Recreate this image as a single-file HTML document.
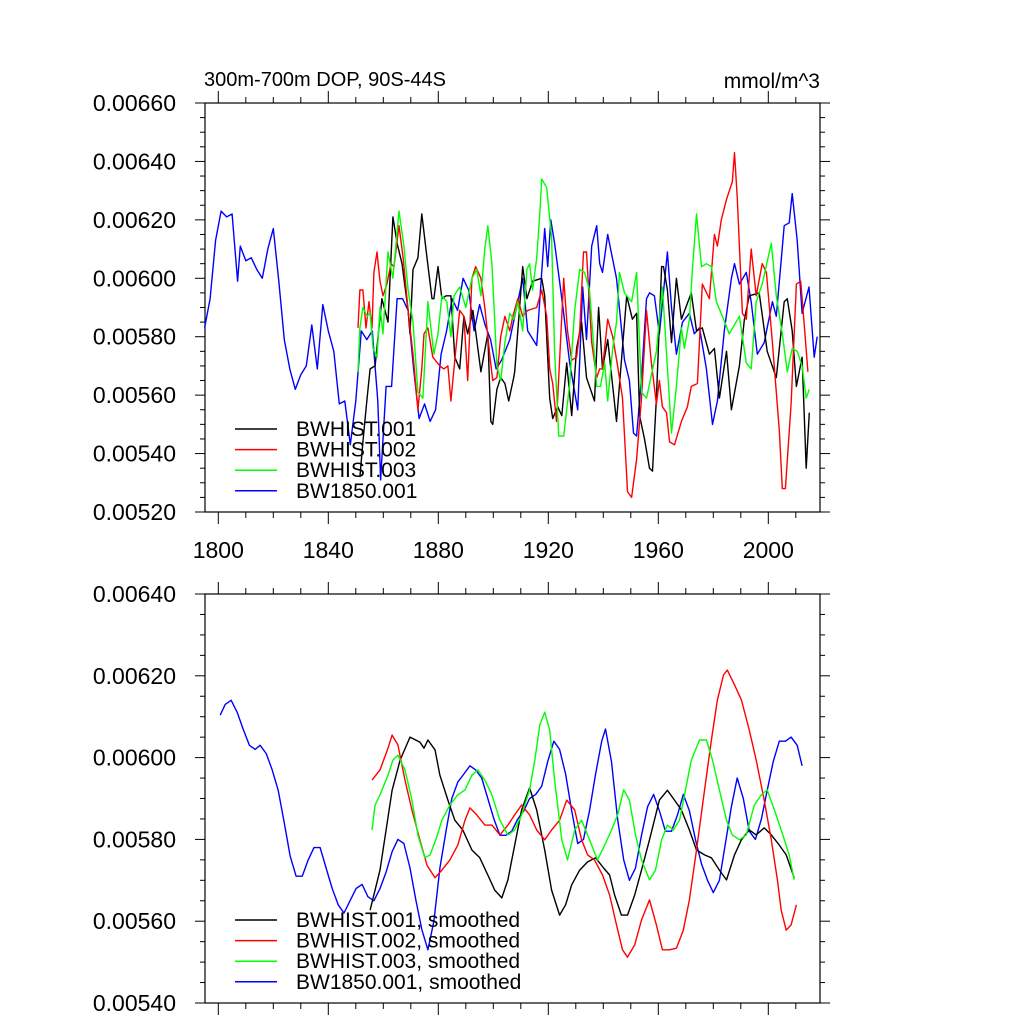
<!DOCTYPE html>
<html><head><meta charset="utf-8">
<style>
body{margin:0;background:#fff;}
svg{display:block;font-family:"Liberation Sans",sans-serif;}
</style></head>
<body>
<svg id="chart" width="1024" height="1024" viewBox="0 0 1024 1024"></svg>
<script>
// ---------- data (values in units of 1e-5 mmol/m^3) ----------
const xTickLabels = ["1800","1840","1880","1920","1960","2000"];
const topYTickLabels = ["0.00520","0.00540","0.00560","0.00580","0.00600","0.00620","0.00640","0.00660"];
const botYTickLabels = ["0.00540","0.00560","0.00580","0.00600","0.00620","0.00640"];
const topLegend = ["BWHIST.001","BWHIST.002","BWHIST.003","BW1850.001"];
const botLegend = ["BWHIST.001, smoothed","BWHIST.002, smoothed","BWHIST.003, smoothed","BW1850.001, smoothed"];

const blkYears=[1851.5,1852.6,1854.1,1855.2,1857,1859.5,1861.7,1863.5,1865,1866.8,1869,1869.7,1870.8,1872.6,1874,1875.9,1877.7,1878.4,1879.9,1881.3,1882.8,1884.6,1886,1887.8,1889.3,1890.7,1892.6,1895.5,1898,1899.1,1899.8,1901.3,1902.7,1904.2,1905.6,1907.4,1907.8,1910.7,1912.2,1914.3,1917.6,1918.7,1920.5,1921.6,1923.4,1924.9,1926.7,1928.5,1930.3,1932.1,1933.9,1936.8,1938.3,1939.7,1941.6,1944.8,1948.5,1950.6,1952.1,1953.2,1955,1956.8,1957.9,1959.3,1961.2,1961.9,1963.3,1964.8,1966.6,1968.4,1972,1973.9,1976,1978.6,1980.4,1982.2,1984.8,1986.6,1989.5,1991.3,1993.1,1996.7,1999.6,2002.9,2005.8,2006.9,2008.7,2010.2,2012.3,2013.8,2014.9];
const blkVals=[532,544,559,569,570,593,585,621,612,605,589,581,603,607,622,607,593,593,604,593,594,594,573,569,587,581,589,568,581,551,550,562,566,564,558,566,568,604,593,599,600,594,559,552,556,553,571,553,576,585,566,558,590,569,579,551,594,586,588,553,545,535,534,559,604,604,596,578,600,586,595,582,583,574,576,559,575,555,570,586,594,595,575,566,592,593,582,563,573,535,554];

const redYears=[1850.8,1851.5,1852.6,1853.7,1854.8,1855.9,1856.6,1857.7,1858.8,1859.9,1861.3,1862.8,1863.9,1865.7,1867.2,1869,1870.8,1872.6,1874,1874.8,1876.2,1878,1880.6,1882,1883.5,1884.6,1886,1887.8,1889.3,1890.7,1892.2,1893.6,1895.5,1896.9,1898.7,1899.8,1901.3,1902.7,1904.2,1906,1907.1,1908.9,1910.7,1912.5,1915.8,1917.6,1919.4,1920.5,1921.6,1923,1924.1,1925.6,1927,1928.5,1930.3,1931.4,1932.8,1933.9,1935.8,1937.6,1938.7,1939.7,1941.6,1943.4,1945.2,1947,1948.8,1950.3,1952.1,1953.9,1955.7,1957.5,1959.3,1960.4,1961.5,1963,1964.1,1965.9,1968.4,1970.6,1972,1974.2,1976,1978.6,1980.4,1981.5,1982.9,1984.8,1986.9,1987.7,1988.7,1990.6,1992,1993.8,1995.6,1997.8,1999.3,2001.5,2004,2005.1,2006.2,2008.3,2010.2,2011.8,2012.9,2014.4];
const redVals=[583,596,596,583,592,583,602,609,599,594,598,605,604,618,607,589,574,555,569,581,583,573,570,569,570,558,572,589,587,565,600,604,600,590,574,565,566,580,587,582,587,593,587,589,590,596,587,569,564,551,572,600,582,572,573,582,609,609,578,566,569,569,586,580,570,559,527,525,538,559,589,571,557,565,556,554,544,543,551,556,563,564,598,593,615,611,620,627,633,643,628,588,586,610,594,605,602,578,548,528,528,557,598,599,586,568];

const grnYears=[1850.8,1851.5,1852.6,1854.1,1855.2,1856.3,1857.7,1858.8,1859.9,1861.7,1863.5,1865.7,1867.5,1869,1870.8,1872.6,1874.4,1876.2,1878.4,1879.9,1881.3,1883.1,1884.6,1885.7,1887.8,1890,1892.2,1894,1895.5,1896.9,1898,1899.5,1901.3,1902.7,1904.2,1906,1907.4,1908.9,1910.7,1912.2,1913.2,1914.3,1915.8,1916.9,1917.6,1919.4,1921.2,1922.3,1923.8,1925.6,1927.8,1929.6,1931.4,1933.2,1935,1937.6,1939,1940.5,1941.6,1943.4,1944.8,1945.9,1947.7,1950.3,1952.1,1953.9,1955.7,1959.3,1961.5,1964.8,1966.6,1968.4,1969.5,1971.3,1972.4,1973.9,1975.7,1977.5,1979.3,1981.1,1983.3,1985.8,1989.5,1992,1993.8,1995.6,1997.8,2001.1,2002.9,2005.1,2006.9,2008.7,2010.5,2012.3,2013.8,2014.9];
const grnVals=[568,583,590,587,588,576,573,590,581,609,600,623,611,596,585,561,559,592,574,581,594,592,580,594,597,590,600,603,594,610,618,605,570,565,578,588,586,592,582,603,605,596,607,622,634,631,614,575,546,546,564,589,603,602,596,563,563,571,558,576,585,602,595,592,602,561,559,575,597,547,563,583,576,586,603,622,604,605,604,592,587,581,587,571,569,592,598,612,594,581,568,576,575,570,559,562];

const bluYears=[1795,1797,1799,1801,1803,1805,1807,1808,1810,1812,1814,1816,1818,1820,1822,1824,1826,1828,1830,1832,1834,1836,1838,1840,1842,1844,1846,1848,1850,1852,1854,1856,1858,1859,1861,1863,1865,1867,1869,1871,1873,1875,1877,1879,1881,1883,1885,1887,1889,1891,1893,1895,1897,1899,1901,1903,1906,1910.7,1912.5,1915.8,1918.7,1919.8,1920.9,1922.3,1925.2,1927.8,1930.7,1932.5,1933.9,1935.8,1937.6,1938.7,1939.7,1941.6,1944.8,1947.7,1949.5,1951,1952.1,1953.9,1955.7,1956.8,1958.6,1960.4,1963.3,1964.8,1966.6,1968.8,1971.3,1973.1,1975,1977.5,1979.7,1981.5,1984,1986.6,1987.7,1989.5,1992,1993.8,1996,1998.5,2001.5,2002.9,2005.8,2007.6,2008.7,2010.5,2012.3,2014.8,2016.7,2017.8];
const bluVals=[583,593,613,623,621,622,599,611,606,607,603,600,610,617,599,579,569,562,567,570,584,569,591,582,575,557,558,543,558,582,579,582,558,531,563,563,593,593,589,569,552,557,551,555,574,582,593,589,600,596,582,591,584,579,569,572,579,600,582,577,617,604,620,612,591,571,555,597,579,611,618,605,602,615,600,572,565,547,546,566,593,595,594,581,609,590,574,585,588,581,583,569,550,558,582,600,605,598,602,592,574,578,592,587,618,619,629,613,588,597,573,580];

const sBlkYears=[1855.2,1858.8,1863.2,1866.1,1869.7,1873.3,1874.8,1876.2,1878.8,1880.6,1883.5,1886,1888.9,1892.2,1895.1,1898,1900.5,1903.1,1905.3,1907.8,1910.3,1913.2,1915.8,1918.7,1921.2,1924.1,1926.3,1928.5,1931.4,1934.3,1937.2,1940.1,1942.3,1944.1,1946.6,1948.8,1951.4,1953.9,1956.8,1960.4,1963.3,1965.9,1968.4,1971.3,1973.9,1976.8,1979.3,1982.2,1984.8,1987.7,1990.2,1993.1,1995.6,1998.5,2001.1,2004,2006.5,2009.4];
const sBlkVals=[562.7,572.5,592,599.4,605,603.8,602.3,604.3,601.9,595.7,589.6,584.7,582.3,577.4,575.5,571.3,567.6,565.7,570.1,578.6,587.2,592.6,587.2,577.4,567.6,561.5,564,568.9,572.5,574.5,575.5,573,571.3,566.4,561.5,561.5,566.4,572.5,579.9,589.6,592,589.6,587.2,582.3,577.4,576.2,575.5,572.5,570.1,576.2,579.9,582.3,581.1,582.8,581.1,578.6,576.2,570.6];

const sRedYears=[1855.9,1858.8,1861.7,1863.2,1865.3,1867.9,1870.4,1873.3,1875.9,1878.8,1881.3,1884.2,1887.1,1889.7,1891.5,1894,1896.9,1899.5,1902.4,1905.3,1907.8,1910.3,1913.2,1915.8,1918.7,1921.2,1924.1,1926.7,1929.6,1932.1,1934.3,1936.8,1939.7,1942.3,1944.8,1947,1948.8,1951.4,1953.9,1956.8,1959.3,1961.5,1964.1,1966.6,1969.1,1971.3,1973.9,1976.8,1979.3,1981.5,1983.7,1985.1,1987.7,1990.2,1993.1,1995.6,1998.5,2001.1,2003.3,2004.7,2006.5,2008.3,2010.2];
const sRedVals=[594.5,597,602.3,605.5,603.1,594.5,587.2,579.9,573.7,570.6,572.5,575,578.6,584.7,587.7,586,583.5,583.5,581.1,583.5,586,588.4,586,582.3,579.9,582.3,584.7,589.6,587.2,579.9,576.2,575,571.3,566.4,559.1,553,551.2,554.2,560.3,565.2,559.1,553,553,553.4,557.8,565.2,577.4,592,604.3,614.1,620.2,621.4,617.8,614.1,606.7,599.4,589.6,579.9,570.1,562.7,557.8,559.1,564];

const sGrnYears=[1855.9,1857,1858.8,1861.7,1863.5,1865.3,1867.9,1870.4,1872.6,1875.1,1877,1879.1,1881.3,1884.2,1887.1,1889.7,1892.2,1894.4,1896.9,1899.5,1902.4,1905.3,1907.8,1910.3,1913.2,1915.1,1916.9,1918.7,1920.5,1922.3,1924.9,1927,1929.6,1932.1,1935,1937.9,1940.5,1943,1945.2,1947.4,1949.5,1951.7,1953.9,1956.8,1959,1961.2,1963.3,1965.5,1967.7,1969.9,1972,1975,1977.5,1979.7,1982.2,1984.8,1986.9,1989.5,1992,1994.9,1997.5,1999.6,2002.2,2004.7,2007.6,2009.4];
const sGrnVals=[582.3,588.4,590.9,595.7,599.4,600.6,597,589.6,581.1,575.5,576.2,579.9,584.7,588.4,590.9,592.1,595.7,597,594.5,590.9,584.7,581.1,582.3,586,592.1,599.4,608,611.1,606.7,594.5,579.9,575,582.3,584.7,579.9,575,578.6,582.3,586,592.1,589.6,581.1,575,570.1,572.5,579.9,583.5,582.3,584.7,592.1,599.4,604.3,604.3,599.4,592.1,584.7,581.1,579.9,581.1,588.4,590.9,592.1,587.2,582.3,576.2,570.1];

const sBluYears=[1800.7,1802.5,1804.7,1806.9,1809,1811.3,1813.4,1815.2,1817.4,1819.6,1821.8,1824,1826.1,1828.3,1830.5,1832.7,1834.8,1837,1839.2,1841.4,1843.6,1845.7,1847.9,1850.1,1852.3,1854.4,1856.6,1858.8,1861,1863.2,1865.3,1867.5,1869.7,1871.9,1874,1876.2,1878.4,1880.6,1882.8,1884.9,1887.1,1889.3,1891.5,1893.6,1895.8,1898,1900.2,1902.4,1904.5,1906.7,1908.9,1911.1,1913.2,1915.4,1917.6,1919.8,1922,1924.1,1926.3,1928.5,1930.7,1932.8,1935,1937.2,1939.4,1940.8,1943,1945.2,1947.4,1949.5,1951.7,1953.9,1956.1,1958.3,1960.4,1962.6,1964.8,1967,1969.1,1971.3,1973.5,1975.7,1977.9,1980,1982.2,1984.4,1986.6,1988.7,1990.9,1993.1,1995.3,1997.5,1999.6,2001.8,2004,2006.2,2008.3,2010.5,2012.3];
const sBluVals=[610.4,613,614,611,607,603,602,603,601,597,592,584,576,571,571,575,578,578,573,568,564,562,565,568,569,566,565,568,572,577,580,579,573,565,558,553,560,573,582,590,594,596,598,597,595,590,585,581,581,582,585,587,590,591,593,599,604,602,596,587,579,580,587,596,604,607,599,585,575,570,573,581,588,591,587,582,582,586,591,587,580,574,570,567,570,579,588,595,590,582,580,585,592,599,604,604,605,603,598];

// ---------- drawing ----------
const svg=document.getElementById('chart');
const NS='http://www.w3.org/2000/svg';
const X0=205, X1=820;
function xs(yr){return 218.3+(yr-1800)*2.75;}
function mk(tag,attrs,parent){const e=document.createElementNS(NS,tag);for(const k in attrs)e.setAttribute(k,attrs[k]);(parent||svg).appendChild(e);return e;}

function panel(name,top,bot,vmin,vmax,yLabels,showX){
  const g=mk('g',{});
  
  
  const ys=v=>bot-(v-vmin)/(vmax-vmin)*(bot-top);
  const frame=mk('rect',{x:X0,y:top,width:X1-X0,height:bot-top,fill:'none',stroke:'#000','stroke-width':1.2},g);
  
  
  for(let v=vmin;v<=vmax+0.01;v+=5){
    const major=Math.round(v)%20===0;
    const L=major?10:5, y=ys(v);
    mk('line',{x1:X0,x2:X0-L,y1:y,y2:y,stroke:'#000','stroke-width':1},g);
    mk('line',{x1:X1,x2:X1+L,y1:y,y2:y,stroke:'#000','stroke-width':1},g);
  }
  yLabels.forEach((lab,i)=>{
    const v=vmin+i*20;
    const t=mk('text',{x:176,y:ys(v)+8,'text-anchor':'end','font-size':23},g);
    t.textContent=lab;
    
    
  });
  for(let yr=1800;yr<=2010;yr+=10){
    const major=(yr-1800)%40===0, L=major?12:6, x=xs(yr);
    mk('line',{x1:x,x2:x,y1:bot,y2:bot+L,stroke:'#000','stroke-width':1},g);
    mk('line',{x1:x,x2:x,y1:top,y2:top-L,stroke:'#000','stroke-width':1},g);
  }
  if(showX){
    xTickLabels.forEach(lab=>{
      const t=mk('text',{x:xs(+lab),y:bot+46,'text-anchor':'middle','font-size':23},g);
      t.textContent=lab;
      
      
    });
  }
  return ys;
}
function series(name,years,vals,ys,color){
  const p=mk('path',{d:years.map((yr,i)=>(i?'L':'M')+xs(yr).toFixed(1)+' '+ys(vals[i]).toFixed(1)).join(''),fill:'none',stroke:color,'stroke-width':1.4,'stroke-linejoin':'round'});
  
  
}
function legend(labels,y0,colors,name){
  labels.forEach((lab,i)=>{
    const y=y0+i*20.6;
    const l=mk('line',{x1:235,x2:277,y1:y,y2:y,stroke:colors[i],'stroke-width':1.5});
    
    
    const t=mk('text',{x:296,y:y+7,'font-size':21});
    t.textContent=lab;
    
    
  });
}
const colors=['#000','#f00','#0f0','#00f'];

const yTop=panel('top-panel',103,512,520,660,topYTickLabels,true);
series('bw1850-line',bluYears,bluVals,yTop,'#00f');
series('bwhist001-line',blkYears,blkVals,yTop,'#000');
series('bwhist002-line',redYears,redVals,yTop,'#f00');
series('bwhist003-line',grnYears,grnVals,yTop,'#0f0');
legend(topLegend,429,colors,'top-legend');

const yBot=panel('bottom-panel',594,1003,540,640,botYTickLabels,false);
series('bw1850-smoothed-line',sBluYears,sBluVals,yBot,'#00f');
series('bwhist001-smoothed-line',sBlkYears,sBlkVals,yBot,'#000');
series('bwhist002-smoothed-line',sRedYears,sRedVals,yBot,'#f00');
series('bwhist003-smoothed-line',sGrnYears,sGrnVals,yBot,'#0f0');
legend(botLegend,920,colors,'bottom-legend');

const title=mk('text',{x:204,y:86,'font-size':20});
title.textContent='300m-700m DOP, 90S-44S';


const units=mk('text',{x:820,y:88,'font-size':21,'text-anchor':'end'});
units.textContent='mmol/m^3';


</script>
</body></html>
